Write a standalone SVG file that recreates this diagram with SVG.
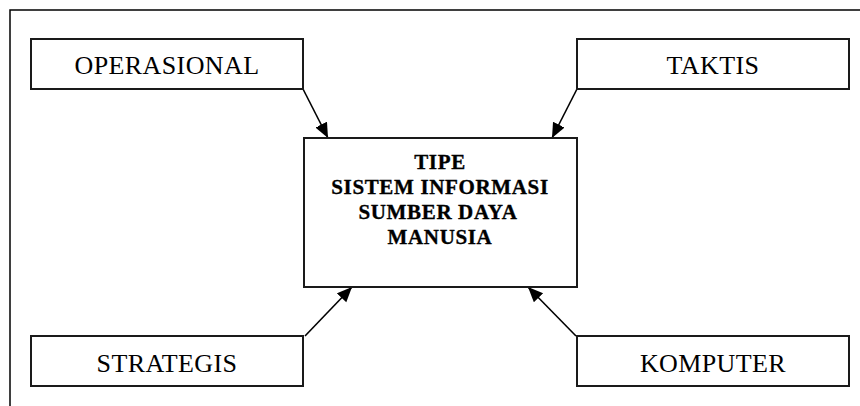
<svg xmlns="http://www.w3.org/2000/svg" width="860" height="406" viewBox="0 0 860 406">
  <style>
    .box { fill: #fff; stroke: #1a1a1a; stroke-width: 2; }
    .label { font-family: "Liberation Serif", "Times New Roman", serif; font-size: 26px; letter-spacing: 0.4px; text-anchor: middle; fill: #000; }
    .title { font-family: "Liberation Serif", "Times New Roman", serif; font-size: 21px; font-weight: bold; letter-spacing: 0.65px; text-anchor: middle; fill: #000; stroke: #000; stroke-width: 0.35; }
    .link { stroke: #000; stroke-width: 1.6; fill: none; marker-end: url(#arrow); }
  </style>
  <defs>
    <marker id="arrow" markerUnits="userSpaceOnUse" markerWidth="16" markerHeight="14" refX="15" refY="6.5" orient="auto">
      <path d="M0,0 L15,6.5 L0,13 z" fill="#000"/>
    </marker>
  </defs>

  <rect width="860" height="406" fill="#fff"/>
  <!-- outer frame, open to the right and bottom -->
  <rect x="10" y="10" width="900" height="450" fill="none" stroke="#000" stroke-width="1.5"/>

  <g id="connectors">
    <line class="link" x1="303" y1="89" x2="328" y2="138"/>
    <line class="link" x1="577" y1="89" x2="552" y2="138"/>
    <line class="link" x1="305" y1="336" x2="352" y2="287"/>
    <line class="link" x1="576" y1="336" x2="528" y2="287"/>
  </g>

  <g id="operasional">
    <rect class="box" x="31" y="39" width="272" height="50"/>
    <text class="label" x="167" y="74">OPERASIONAL</text>
  </g>

  <g id="taktis">
    <rect class="box" x="577" y="39" width="272" height="50"/>
    <text class="label" x="713" y="74">TAKTIS</text>
  </g>

  <g id="strategis">
    <rect class="box" x="31" y="336" width="272" height="50"/>
    <text class="label" x="167" y="372">STRATEGIS</text>
  </g>

  <g id="komputer">
    <rect class="box" x="577" y="336" width="272" height="50"/>
    <text class="label" x="713" y="372">KOMPUTER</text>
  </g>

  <g id="tipe-sistem-informasi">
    <rect class="box" x="304" y="138" width="273" height="149"/>
    <text class="title" x="440" y="169">TIPE</text>
    <text class="title" x="440" y="194">SISTEM INFORMASI</text>
    <text class="title" x="438" y="219">SUMBER DAYA</text>
    <text class="title" x="440" y="244">MANUSIA</text>
  </g>
</svg>
